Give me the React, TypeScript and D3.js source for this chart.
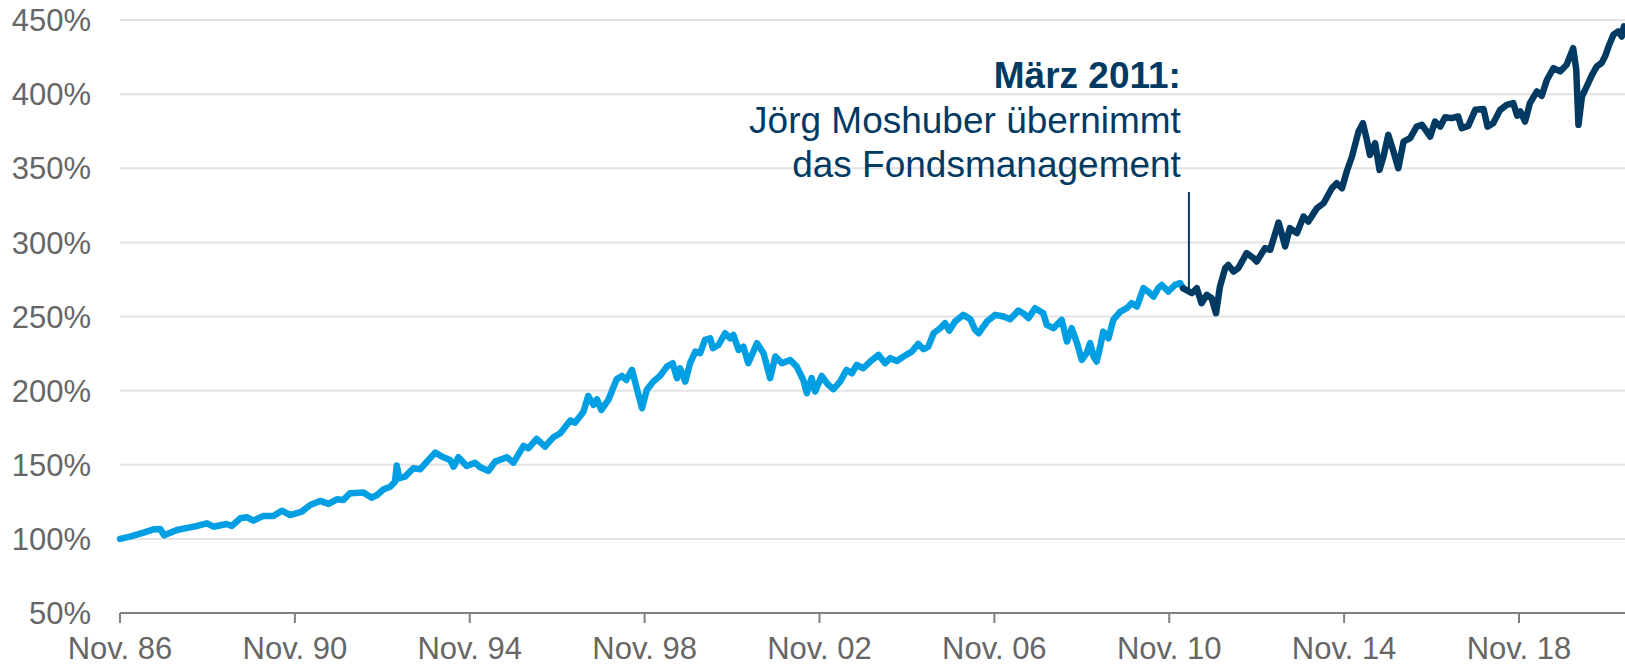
import React from "react";
import * as d3 from "d3";

// Decimal years (Nov. 86 = 1986.83) and fund performance in %
const years: number[] = [
  1986.83, 1987.06, 1987.37, 1987.6, 1987.75, 1987.84, 1988.13, 1988.43, 1988.59, 1988.82,
  1988.97, 1989.27, 1989.39, 1989.58, 1989.73, 1989.88, 1990.11, 1990.34, 1990.53, 1990.72,
  1990.99, 1991.18, 1991.41, 1991.6, 1991.79, 1991.94, 1992.09, 1992.4, 1992.59, 1992.71,
  1992.86, 1993.01, 1993.12, 1993.16, 1993.22, 1993.35, 1993.54, 1993.7, 1993.85, 1994.04,
  1994.19, 1994.38, 1994.46, 1994.57, 1994.76, 1994.95, 1995.07, 1995.26, 1995.41, 1995.68,
  1995.83, 1996.06, 1996.17, 1996.36, 1996.55, 1996.74, 1996.9, 1997.13, 1997.24, 1997.43,
  1997.54, 1997.66, 1997.74, 1997.84, 1998.0, 1998.19, 1998.31, 1998.41, 1998.54, 1998.65,
  1998.77, 1998.88, 1999.03, 1999.18, 1999.34, 1999.47, 1999.57, 1999.64, 1999.76, 1999.87,
  1999.99, 2000.1, 2000.21, 2000.33, 2000.39, 2000.52, 2000.67, 2000.79, 2000.86, 2000.98,
  2001.09, 2001.2, 2001.4, 2001.55, 2001.7, 2001.82, 2001.97, 2002.16, 2002.31, 2002.46,
  2002.54, 2002.65, 2002.73, 2002.88, 2003.03, 2003.15, 2003.3, 2003.45, 2003.57, 2003.68,
  2003.83, 2003.99, 2004.18, 2004.33, 2004.45, 2004.6, 2004.75, 2004.94, 2005.09, 2005.21,
  2005.32, 2005.44, 2005.59, 2005.7, 2005.8, 2005.93, 2006.12, 2006.28, 2006.39, 2006.47,
  2006.66, 2006.85, 2007.04, 2007.19, 2007.38, 2007.49, 2007.61, 2007.76, 2007.95, 2008.03,
  2008.18, 2008.37, 2008.49, 2008.6, 2008.72, 2008.83, 2008.94, 2009.02, 2009.1, 2009.17,
  2009.25, 2009.32, 2009.44, 2009.55, 2009.71, 2009.86, 2009.97, 2010.09, 2010.24, 2010.35,
  2010.47, 2010.58, 2010.66, 2010.81, 2010.96, 2011.08, 2011.15,
  2011.35, 2011.46, 2011.57, 2011.69, 2011.8, 2011.9, 2011.99, 2012.11, 2012.18, 2012.3,
  2012.41, 2012.6, 2012.76, 2012.83, 2013.02, 2013.14, 2013.33, 2013.4, 2013.48, 2013.59,
  2013.75, 2013.9, 2014.01, 2014.21, 2014.36, 2014.55, 2014.66, 2014.78, 2014.89, 2015.01,
  2015.16, 2015.26, 2015.35, 2015.42, 2015.54, 2015.64, 2015.73, 2015.84, 2015.96, 2016.07,
  2016.19, 2016.34, 2016.49, 2016.61, 2016.72, 2016.8, 2016.91, 2017.03, 2017.14, 2017.29,
  2017.44, 2017.52, 2017.67, 2017.83, 2018.02, 2018.11, 2018.24, 2018.4, 2018.55, 2018.7,
  2018.79, 2018.86, 2018.97, 2019.08, 2019.24, 2019.35, 2019.47, 2019.62, 2019.77, 2019.92,
  2020.07, 2020.14, 2020.19, 2020.27, 2020.38, 2020.5, 2020.61, 2020.72, 2020.8, 2020.88,
  2020.99, 2021.1, 2021.18, 2021.23,
];

const values: number[] = [
  100, 101.5, 104.2, 106.5, 106.7, 102.4, 106, 107.8, 108.7, 110.5,
  108.2, 110, 108.7, 113.9, 114.6, 112.3, 115.5, 115.5, 119, 116.1,
  118.4, 122.9, 125.6, 123.6, 126.7, 126.2, 130.8, 131.2, 127.8, 129.6,
  133.5, 135.2, 138.6, 149.5, 140.9, 142, 147.6, 147, 152.1, 158.2,
  155.5, 153.2, 148.7, 155.1, 149.2, 151.4, 148.3, 145.8, 152.1, 155.1,
  151.4, 162.7, 161.1, 167.4, 162.2, 168.5, 171.3, 179.8, 178.4, 185.8,
  196.4, 190.4, 194.2, 187, 193.7, 207.7, 209.9, 207.2, 214, 201.6,
  188.1, 200.5, 206.1, 209.9, 216.2, 218.5, 208.4, 215.1, 206.1, 218.5,
  226.3, 225.2, 234.2, 235.3, 228.6, 230.8, 238.7, 235.3, 237.6, 227.5,
  229.7, 218.5, 232, 225.2, 208.4, 223, 218.5, 220.7, 216.2, 207.2,
  198.2, 208.4, 199.4, 209.9, 203.9, 201, 206.1, 214, 211.7, 217.3,
  215.1, 219.6, 224.1, 218.5, 221.9, 220, 223, 226.3, 231.5, 227.9,
  229.7, 238.7, 242.1, 245.5, 240.5, 246.6, 251.1, 248.2, 241, 238.7,
  246.6, 251.1, 250, 248.2, 254, 252.2, 248.9, 255.6, 252.2, 244.3,
  242.1, 247.7, 233.1, 242.1, 232, 220.7, 225.2, 232, 223, 219.6,
  229.7, 239.8, 235.3, 247.7, 253.3, 255.6, 259, 256.7, 269.1, 266.8,
  263.4, 269.1, 271.3, 266.8, 271.3, 272.5, 269,
  265.8, 269.1, 259, 264.6, 262.4, 252.2, 270.2, 282.6, 284.8, 280.3,
  282.6, 292.7, 289.3, 287.1, 296.1, 295, 313.4, 306.2, 297.2, 309.6,
  306.2, 317.4, 314, 323.1, 326.4, 336.5, 339.9, 336.5, 347.8, 357.9,
  374.8, 380.4, 369.2, 359, 366.9, 348.9, 357.9, 372.5, 361.3, 350,
  368, 370.3, 378.1, 379.3, 374.8, 371.4, 381.5, 378.1, 384.4, 383.8,
  384.9, 377, 378.6, 389.4, 389.9, 378.1, 380.4, 389.4, 392.8, 393.9,
  385.4, 388.3, 381.5, 393.9, 401.8, 398.9, 409.7, 417.5, 415.3, 419.8,
  431, 416.4, 379.3, 398.4, 405.2, 413, 418.7, 421, 425.5, 432.2,
  440.1, 442.3, 438.9, 445.7,
];

// Change of fund manager (series switches colour here)
const managerChangeYear = 2011.15;
const annotationYear = 2011.28;
const annotationValue = 268;
const annotationTopValue = 334;
const annotationLines: string[] = ["März 2011:", "Jörg Moshuber übernimmt", "das Fondsmanagement"];

const xTickYears: number[] = [1986.83, 1990.83, 1994.83, 1998.83, 2002.83, 2006.83, 2010.83, 2014.83, 2018.83];
const xTickLabels: string[] = ["Nov. 86", "Nov. 90", "Nov. 94", "Nov. 98", "Nov. 02", "Nov. 06", "Nov. 10", "Nov. 14", "Nov. 18"];
const yTicks: number[] = [50, 100, 150, 200, 250, 300, 350, 400, 450];

const W = 1625;
const H = 667;
const FONT = "'Liberation Sans', Arial, Helvetica, sans-serif";
const LIGHT = "#009fe3";
const DARK = "#003a63";

export default function App() {
  const x = d3.scaleLinear().domain([1986.83, 2021.255]).range([120, 1625]);
  const y = d3.scaleLinear().domain([50, 450]).range([613, 20]);

  const pts = years.map((yr, i) => ({ yr, v: values[i] }));
  const before = pts.filter((p) => p.yr <= managerChangeYear);
  const after = pts.filter((p) => p.yr >= managerChangeYear);

  const line = d3
    .line<{ yr: number; v: number }>()
    .x((d) => x(d.yr))
    .y((d) => y(d.v));

  const x0 = x.range()[0];
  const x1 = x.range()[1];
  const axY = y(50);
  const annX = x(annotationYear);
  const textRight = annX - 8;

  return (
    <svg
      width={W}
      height={H}
      style={{ position: "absolute", left: 0, top: 0, display: "block", background: "#fff" }}
      fontFamily={FONT}
    >
      {yTicks
        .filter((t) => t > 50)
        .map((t) => (
          <line key={"g" + t} x1={x0} x2={x1} y1={y(t)} y2={y(t)} stroke="#e3e3e3" strokeWidth={2} />
        ))}
      {yTicks.map((t) => (
        <text
          key={"yl" + t}
          x={91}
          y={y(t)}
          dy="0.36em"
          textAnchor="end"
          fontSize={31}
          fill="#666666"
        >
          {t + "%"}
        </text>
      ))}
      <line x1={x0} x2={x1} y1={axY} y2={axY} stroke="#808080" strokeWidth={2} />
      {xTickYears.map((t, i) => (
        <g key={"xt" + i}>
          <line x1={x(t)} x2={x(t)} y1={axY} y2={axY + 10} stroke="#808080" strokeWidth={2} />
          <text x={x(t)} y={659} textAnchor="middle" fontSize={31} fill="#666666">
            {xTickLabels[i]}
          </text>
        </g>
      ))}
      <path d={line(before) || ""} fill="none" stroke={LIGHT} strokeWidth={6.5} strokeLinejoin="round" strokeLinecap="round" />
      <path d={line(after) || ""} fill="none" stroke={DARK} strokeWidth={6.5} strokeLinejoin="round" strokeLinecap="round" />
      <line
        x1={annX}
        x2={annX}
        y1={y(annotationTopValue)}
        y2={y(annotationValue)}
        stroke={DARK}
        strokeWidth={2}
      />
      {annotationLines.map((s, i) => (
        <text
          key={"an" + i}
          x={textRight}
          y={88 + i * 44.7}
          textAnchor="end"
          fontSize={37}
          fontWeight={i === 0 ? "bold" : "normal"}
          fill={DARK}
        >
          {s}
        </text>
      ))}
    </svg>
  );
}
